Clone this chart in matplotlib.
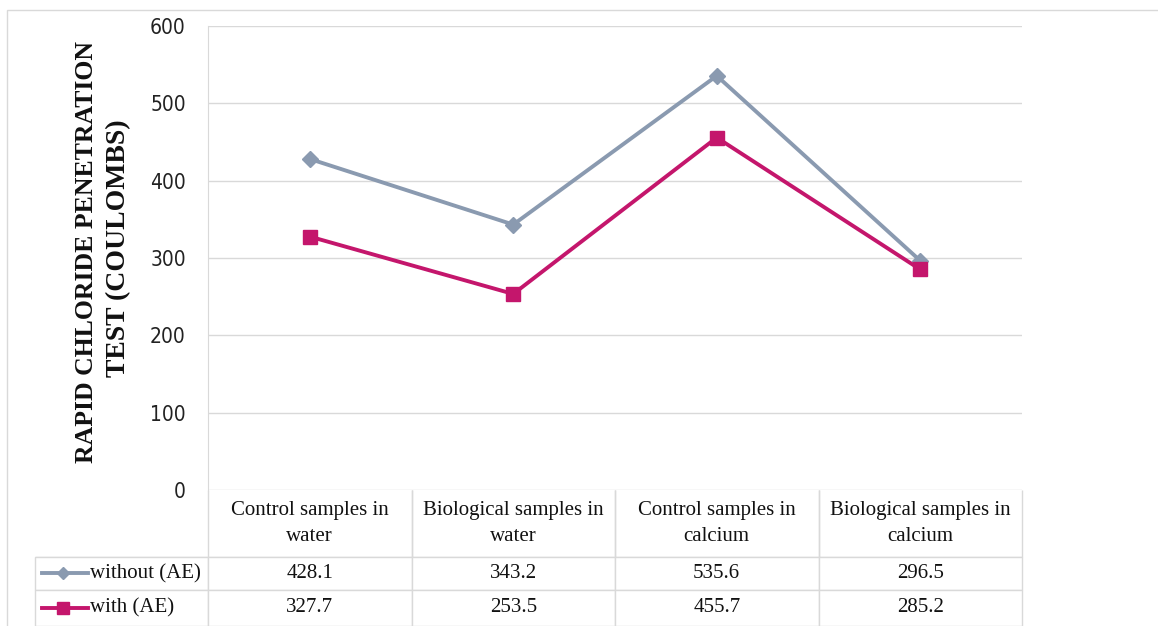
import matplotlib
matplotlib.use('Agg')
import matplotlib.pyplot as plt
from matplotlib.lines import Line2D
from matplotlib.patches import Rectangle

categories = ['Control samples in\nwater', 'Biological samples in\nwater',
              'Control samples in\ncalcium', 'Biological samples in\ncalcium']
without_ae = [428.1, 343.2, 535.6, 296.5]
with_ae = [327.7, 253.5, 455.7, 285.2]
series_names = ['without (AE)', 'with (AE)']
yticks = [0, 100, 200, 300, 400, 500, 600]

c_without = '#8A9AB0'
c_with = '#C4166C'
grid_c = '#D9D9D9'

fig = plt.figure(figsize=(11.58, 6.26), dpi=100)
fig.add_artist(Rectangle((7 / 1158, -0.1), 1.2, (616 / 626) + 0.1,
                         transform=fig.transFigure, fill=False,
                         edgecolor='#D9D9D9', lw=1))

ax = fig.add_axes([208 / 1158, 136 / 626, 814 / 1158, 464 / 626])
x = list(range(len(categories)))
ax.plot(x, without_ae, color=c_without, lw=2.8, marker='D', markersize=8, zorder=3)
ax.plot(x, with_ae, color=c_with, lw=2.8, marker='s', markersize=9.5, zorder=4)

ax.set_xlim(-0.5, 3.5)
ax.set_ylim(0, 600)
ax.set_yticks(yticks)
ax.set_xticks([])
ax.yaxis.grid(True, color=grid_c, lw=1)
ax.set_axisbelow(True)
for s in ['top', 'right', 'bottom']:
    ax.spines[s].set_visible(False)
ax.spines['left'].set_color(grid_c)
ax.tick_params(axis='y', length=0, pad=16, labelsize=15)
for lab in ax.get_yticklabels():
    lab.set_family(['DejaVu Sans'])
    lab.set_fontstretch('condensed')
    lab.set_color('#222222')

# data table under the plot
rows = [[n] + ['%.1f' % v for v in vals] for n, vals in
        [(series_names[0], without_ae), (series_names[1], with_ae)]]
cell_text = [[''] + categories] + rows
tbl = ax.table(cellText=cell_text, cellLoc='center',
               colWidths=[173, 203.5, 203.5, 203.5, 203.5],
               bbox=[-173 / 814, -136 / 464, 987 / 814, 136 / 464])
tbl.auto_set_font_size(False)
row_h = [67, 33, 36]
for (r, c), cell in tbl.get_celld().items():
    cell.set_edgecolor(grid_c)
    cell.set_linewidth(1)
    cell.set_height(row_h[r] / 464)
    cell.get_text().set_fontfamily('Liberation Serif')
    cell.get_text().set_fontsize(15)
    cell.get_text().set_color('#111111')
    if r == 0:
        cell.get_text().set_linespacing(1.55)
    if r == 0 and c == 0:
        cell.visible_edges = 'B'
    if r == 0 and c > 0:
        cell.visible_edges = 'LRB'
    if r > 0 and c == 0:
        cell.get_text().set_ha('left')
        cell.PAD = 0.32
tbl.set_clip_on(False)

# legend keys inside table
for i, (col, mk, ms) in enumerate([(c_without, 'D', 6), (c_with, 's', 8.5)]):
    yk = -(67 + 16 + i * 34.5) / 464
    ax.add_line(Line2D([-166 / 814, -120 / 814], [yk, yk], color=col, lw=2.8,
                       transform=ax.transAxes, clip_on=False))
    ax.add_line(Line2D([-145 / 814], [yk], color=col, marker=mk, markersize=ms,
                       transform=ax.transAxes, clip_on=False))

fig.text(87 / 1158, 1 - 252 / 626, 'RAPID CHLORIDE PENETRATION', rotation=90,
         ha='center', va='center', family='Liberation Serif', weight='bold',
         fontsize=18.5, color='#111111')
fig.text(119 / 1158, 1 - 248 / 626, 'TEST (COULOMBS)', rotation=90,
         ha='center', va='center', family='Liberation Serif', weight='bold',
         fontsize=20, color='#111111')

fig.savefig('out.png', dpi=100)
